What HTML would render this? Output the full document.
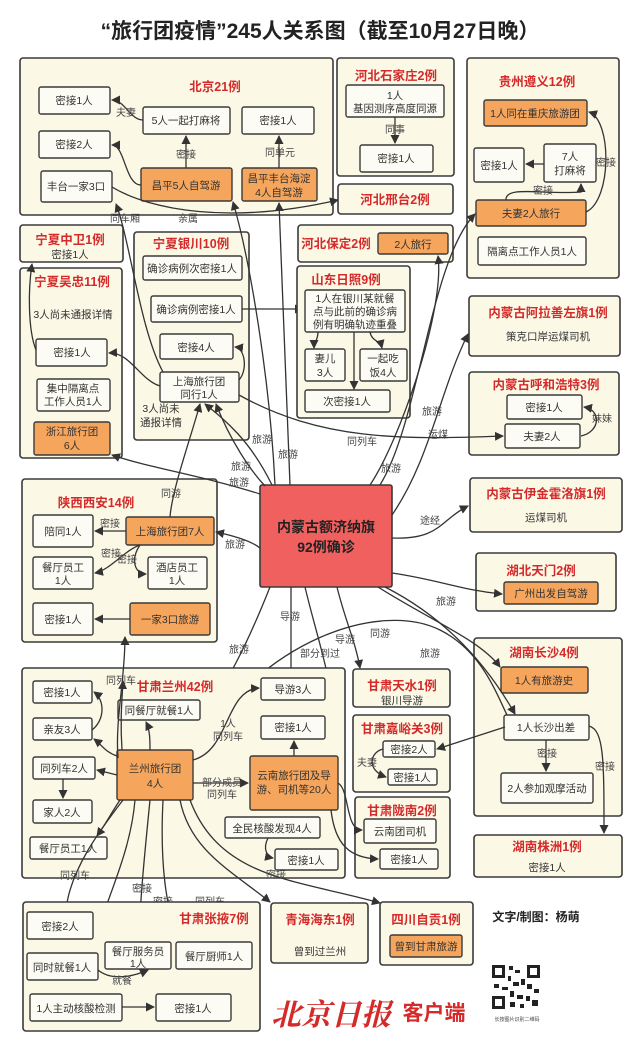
<!DOCTYPE html>
<html><head><meta charset="utf-8">
<style>
html,body{margin:0;padding:0;background:#fff;}
svg{display:block;font-family:"Liberation Sans","Noto Sans CJK SC",sans-serif;}
.p{fill:#fbf8e6;stroke:#3a3a3a;stroke-width:1.6;}
.b{fill:#fdfcf4;stroke:#3a3a3a;stroke-width:1.4;}
.o{fill:#f6a55c;stroke:#3a3a3a;stroke-width:1.4;}
.t{font-size:10.5px;fill:#333;text-anchor:middle;}
.h{font-size:12.5px;fill:#d42a2a;font-weight:bold;text-anchor:middle;}
.l{font-size:10px;fill:#444;text-anchor:middle;}
.c{fill:none;stroke:#333;stroke-width:1.3;marker-end:url(#a);}
.n{fill:none;stroke:#333;stroke-width:1.3;}
</style></head><body>
<svg width="640" height="1050" viewBox="0 0 640 1050">
<defs><marker id="a" markerWidth="9" markerHeight="9" refX="8" refY="4.5" orient="auto" markerUnits="userSpaceOnUse"><path d="M0,0 L9,4.5 L0,9 Z" fill="#333"/></marker></defs>
<text x="320" y="38" text-anchor="middle" font-size="21" font-weight="bold" fill="#222">“旅行团疫情”245人关系图（截至10月27日晚）</text>

<!-- Beijing -->
<rect class="p" x="20" y="58" width="313" height="157" rx="3"/>
<text class="h" x="215" y="91">北京21例</text>
<rect class="b" x="39" y="87" width="71" height="27" rx="2"/><text class="t" x="74" y="104">密接1人</text>
<rect class="b" x="143" y="107" width="87" height="27" rx="2"/><text class="t" x="186" y="124">5人一起打麻将</text>
<rect class="b" x="242" y="107" width="72" height="27" rx="2"/><text class="t" x="278" y="124">密接1人</text>
<rect class="b" x="39" y="131" width="71" height="27" rx="2"/><text class="t" x="74" y="148">密接2人</text>
<rect class="b" x="41" y="171" width="71" height="31" rx="2"/><text class="t" x="76" y="190">丰台一家3口</text>
<rect class="o" x="141" y="168" width="91" height="33" rx="2"/><text class="t" x="186" y="189">昌平5人自驾游</text>
<rect class="o" x="242" y="168" width="75" height="33" rx="2"/><text class="t" x="279" y="182">昌平丰台海淀</text><text class="t" x="279" y="196">4人自驾游</text>
<path class="c" d="M143,120 C130,120 125,100 112,100"/><text class="l" x="126" y="116">夫妻</text>
<path class="c" d="M186,168 L186,136"/><text class="l" x="186" y="158">密接</text>
<path class="c" d="M279,168 L279,136"/><text class="l" x="280" y="156">同单元</text>
<path class="c" d="M141,185 C125,185 125,145 112,145"/>
<path class="c" d="M112,187 C150,210 230,225 338,200"/><text class="l" x="188" y="222">亲属</text>
<text class="l" x="125" y="222">同车厢</text>

<!-- Hebei -->
<rect class="p" x="337" y="58" width="117" height="118" rx="3"/>
<text class="h" x="396" y="80">河北石家庄2例</text>
<rect class="b" x="346" y="85" width="98" height="32" rx="2"/><text class="t" x="395" y="99">1人</text><text class="t" x="395" y="112">基因测序高度同源</text>
<path class="c" d="M395,117 L395,143"/><text class="l" x="395" y="133">同事</text>
<rect class="b" x="360" y="145" width="73" height="27" rx="2"/><text class="t" x="396" y="162">密接1人</text>
<rect class="p" x="338" y="184" width="115" height="30" rx="3"/><text class="h" x="395" y="204">河北邢台2例</text>
<rect class="p" x="298" y="225" width="155" height="37" rx="3"/><text class="h" x="336" y="248">河北保定2例</text>
<rect class="o" x="378" y="233" width="70" height="21" rx="2"/><text class="t" x="413" y="248">2人旅行</text>

<!-- Guizhou -->
<rect class="p" x="467" y="58" width="152" height="220" rx="3"/>
<text class="h" x="537" y="86">贵州遵义12例</text>
<rect class="o" x="484" y="100" width="103" height="26" rx="2"/><text class="t" x="535" y="117">1人同在重庆旅游团</text>
<rect class="b" x="474" y="148" width="50" height="34" rx="2"/><text class="t" x="499" y="169">密接1人</text>
<rect class="b" x="544" y="144" width="52" height="38" rx="2"/><text class="t" x="570" y="160">7人</text><text class="t" x="570" y="174">打麻将</text>
<rect class="o" x="476" y="200" width="110" height="26" rx="2"/><text class="t" x="531" y="217">夫妻2人旅行</text>
<rect class="b" x="478" y="237" width="108" height="28" rx="2"/><text class="t" x="532" y="255">隔离点工作人员1人</text>
<path class="c" d="M544,164 L526,164"/>
<path class="c" d="M506,200 C505,185 545,195 581,192 L581,184"/><text class="l" x="543" y="194">密接</text>
<path class="c" d="M586,212 C612,200 612,120 589,112"/><text class="l" x="606" y="166">密接</text>

<!-- Ningxia -->
<rect class="p" x="20" y="225" width="103" height="37" rx="3"/>
<text class="h" x="70" y="244">宁夏中卫1例</text><text class="t" x="70" y="258">密接1人</text>
<rect class="p" x="20" y="268" width="102" height="190" rx="3"/>
<text class="h" x="72" y="286">宁夏吴忠11例</text>
<text class="t" x="73" y="318">3人尚未通报详情</text>
<rect class="b" x="36" y="339" width="71" height="27" rx="2"/><text class="t" x="72" y="356">密接1人</text>
<rect class="b" x="37" y="379" width="73" height="32" rx="2"/><text class="t" x="73" y="392">集中隔离点</text><text class="t" x="73" y="405">工作人员1人</text>
<rect class="o" x="34" y="422" width="76" height="33" rx="2"/><text class="t" x="72" y="435">浙江旅行团</text><text class="t" x="72" y="449">6人</text>
<path class="c" d="M36,350 C28,330 28,290 32,264"/>

<rect class="p" x="134" y="232" width="115" height="208" rx="3"/>
<text class="h" x="191" y="248">宁夏银川10例</text>
<rect class="b" x="143" y="256" width="99" height="24" rx="2"/><text class="t" x="192" y="272">确诊病例次密接1人</text>
<rect class="b" x="151" y="296" width="91" height="26" rx="2"/><text class="t" x="196" y="313">确诊病例密接1人</text>
<rect class="b" x="160" y="334" width="73" height="25" rx="2"/><text class="t" x="196" y="351">密接4人</text>
<rect class="b" x="160" y="372" width="79" height="30" rx="2"/><text class="t" x="199" y="385">上海旅行团</text><text class="t" x="199" y="398">同行1人</text>
<text class="t" x="161" y="412">3人尚未</text><text class="t" x="161" y="426">通报详情</text>
<path class="c" d="M242,309 L303,309"/>
<path class="c" d="M160,386 C140,380 130,352 109,353"/>
<path class="c" d="M239,380 C248,370 245,348 235,347"/>
<path class="c" d="M163,372 C140,330 130,240 116,204"/>

<!-- Shandong -->
<rect class="p" x="297" y="266" width="113" height="152" rx="3"/>
<text class="h" x="346" y="284">山东日照9例</text>
<rect class="b" x="305" y="290" width="100" height="42" rx="2"/><text class="t" x="355" y="302">1人在银川某就餐</text><text class="t" x="355" y="315">点与此前的确诊病</text><text class="t" x="355" y="328">例有明确轨迹重叠</text>
<rect class="b" x="305" y="349" width="40" height="32" rx="2"/><text class="t" x="325" y="362">妻儿</text><text class="t" x="325" y="376">3人</text>
<rect class="b" x="360" y="349" width="47" height="32" rx="2"/><text class="t" x="383" y="362">一起吃</text><text class="t" x="383" y="376">饭4人</text>
<rect class="b" x="305" y="390" width="85" height="22" rx="2"/><text class="t" x="347" y="405">次密接1人</text>
<path class="c" d="M318,332 C318,340 314,342 314,348"/>
<path class="c" d="M370,332 C372,342 380,340 382,348"/>
<path class="c" d="M354,332 L354,389"/>

<!-- Inner Mongolia right -->
<rect class="p" x="469" y="296" width="151" height="60" rx="3"/>
<text class="h" x="548" y="317">内蒙古阿拉善左旗1例</text><text class="t" x="548" y="340">策克口岸运煤司机</text>
<rect class="p" x="469" y="372" width="150" height="83" rx="3"/>
<text class="h" x="546" y="389">内蒙古呼和浩特3例</text>
<rect class="b" x="507" y="395" width="75" height="24" rx="2"/><text class="t" x="544" y="411">密接1人</text>
<rect class="b" x="505" y="424" width="75" height="24" rx="2"/><text class="t" x="542" y="440">夫妻2人</text>
<path class="c" d="M581,436 C600,432 602,410 584,407"/><text class="l" x="602" y="422">妹妹</text>
<rect class="p" x="470" y="478" width="152" height="54" rx="3"/>
<text class="h" x="546" y="498">内蒙古伊金霍洛旗1例</text><text class="t" x="546" y="521">运煤司机</text>
<rect class="p" x="476" y="553" width="140" height="58" rx="3"/>
<text class="h" x="541" y="575">湖北天门2例</text>
<rect class="o" x="504" y="582" width="94" height="22" rx="2"/><text class="t" x="551" y="597">广州出发自驾游</text>

<!-- Changsha -->
<rect class="p" x="474" y="638" width="148" height="178" rx="3"/>
<text class="h" x="544" y="657">湖南长沙4例</text>
<rect class="o" x="501" y="667" width="87" height="26" rx="2"/><text class="t" x="544" y="684">1人有旅游史</text>
<rect class="b" x="504" y="715" width="85" height="25" rx="2"/><text class="t" x="546" y="731">1人长沙出差</text>
<rect class="b" x="501" y="773" width="92" height="30" rx="2"/><text class="t" x="547" y="792">2人参加观摩活动</text>
<path class="c" d="M546,740 L546,771"/><text class="l" x="547" y="757">密接</text>
<path class="c" d="M589,726 C604,730 604,760 604,833"/><text class="l" x="605" y="770">密接</text>
<rect class="p" x="474" y="835" width="148" height="42" rx="3"/>
<text class="h" x="547" y="851">湖南株洲1例</text><text class="t" x="547" y="871">密接1人</text>

<!-- Xi'an -->
<rect class="p" x="22" y="479" width="195" height="163" rx="3"/>
<text class="h" x="96" y="507">陕西西安14例</text>
<rect class="b" x="33" y="515" width="60" height="32" rx="2"/><text class="t" x="63" y="535">陪同1人</text>
<rect class="o" x="126" y="517" width="88" height="28" rx="2"/><text class="t" x="170" y="535">上海旅行团7人</text>
<rect class="b" x="33" y="557" width="60" height="32" rx="2"/><text class="t" x="63" y="571">餐厅员工</text><text class="t" x="63" y="584">1人</text>
<rect class="b" x="148" y="557" width="59" height="32" rx="2"/><text class="t" x="177" y="571">酒店员工</text><text class="t" x="177" y="584">1人</text>
<rect class="b" x="33" y="603" width="60" height="32" rx="2"/><text class="t" x="63" y="623">密接1人</text>
<rect class="o" x="130" y="603" width="80" height="32" rx="2"/><text class="t" x="170" y="623">一家3口旅游</text>
<path class="c" d="M126,531 L95,531"/><text class="l" x="110" y="527">密接</text>
<path class="c" d="M140,545 C125,550 110,570 95,573"/><text class="l" x="111" y="557">密接</text>
<path class="c" d="M140,545 C130,560 135,574 146,574"/><text class="l" x="127" y="563">密接</text>
<path class="c" d="M130,619 L95,619"/>
<path class="c" d="M170,517 C172,490 190,440 200,404"/><text class="l" x="171" y="497">同游</text>

<!-- Center -->
<rect x="260" y="485" width="132" height="102" fill="#f0605f" stroke="#3a3a3a" stroke-width="1.6" rx="2"/>
<text x="326" y="532" text-anchor="middle" font-size="14" font-weight="bold" fill="#222">内蒙古额济纳旗</text>
<text x="326" y="552" text-anchor="middle" font-size="14" font-weight="bold" fill="#222">92例确诊</text>

<!-- center connectors -->
<path class="c" d="M260,494 C200,475 150,468 112,455"/><text class="l" x="239" y="486">旅游</text>
<path class="c" d="M265,486 C250,470 230,440 216,404"/><text class="l" x="241" y="470">旅游</text>
<path class="c" d="M272,485 C250,440 225,420 205,404"/>
<path class="c" d="M275,485 C270,380 250,260 233,202"/><text class="l" x="262" y="443">旅游</text>
<path class="c" d="M290,485 L279,203"/><text class="l" x="288" y="458">旅游</text>
<path class="c" d="M370,485 C400,440 445,310 438,256"/><text class="l" x="432" y="415">旅游</text>
<path class="c" d="M380,485 C420,420 430,260 475,214"/><text class="l" x="391" y="472">旅游</text>
<path class="c" d="M392,515 C430,460 440,390 468,334"/><text class="l" x="438" y="438">运煤</text>
<path class="c" d="M392,538 C440,540 440,520 468,506"/><text class="l" x="430" y="524">途经</text>
<path class="c" d="M260,548 C250,540 230,535 216,532"/><text class="l" x="235" y="548">旅游</text>
<path class="c" d="M392,573 C440,580 460,590 502,594"/><text class="l" x="446" y="605">旅游</text>
<path class="c" d="M378,587 C430,620 480,640 500,667"/><text class="l" x="430" y="657">旅游</text>
<path class="c" d="M385,587 C450,620 490,670 515,714"/><text class="l" x="440" y="678">旅游</text>
<path class="c" d="M337,587 C345,620 355,640 360,668"/><text class="l" x="345" y="643">导游</text>
<path class="c" d="M291,587 L291,677"/><text class="l" x="290" y="620">导游</text>
<path class="c" d="M305,587 C320,650 340,700 334,754"/><text class="l" x="320" y="657">部分到过</text>
<path class="c" d="M270,587 C245,650 220,700 178,749"/><text class="l" x="239" y="653">旅游</text>
<path class="c" d="M239,395 C320,440 400,440 503,436"/><text class="l" x="362" y="445">同列车</text>
<path class="n" d="M195,752 C260,640 380,600 440,630 C480,650 495,690 507,715"/><text class="l" x="380" y="637">同游</text>

<!-- Gansu Lanzhou -->
<rect class="p" x="22" y="668" width="323" height="210" rx="3"/>
<text class="h" x="175" y="691">甘肃兰州42例</text>
<rect class="b" x="33" y="681" width="59" height="22" rx="2"/><text class="t" x="62" y="696">密接1人</text>
<rect class="b" x="118" y="700" width="82" height="20" rx="2"/><text class="t" x="159" y="714">同餐厅就餐1人</text>
<rect class="b" x="33" y="718" width="59" height="22" rx="2"/><text class="t" x="62" y="733">亲友3人</text>
<rect class="o" x="117" y="750" width="76" height="50" rx="2"/><text class="t" x="155" y="772">兰州旅行团</text><text class="t" x="155" y="787">4人</text>
<rect class="b" x="33" y="757" width="62" height="22" rx="2"/><text class="t" x="64" y="772">同列车2人</text>
<rect class="b" x="33" y="800" width="59" height="23" rx="2"/><text class="t" x="62" y="816">家人2人</text>
<rect class="b" x="30" y="837" width="77" height="22" rx="2"/><text class="t" x="68" y="852">餐厅员工1人</text>
<rect class="b" x="261" y="678" width="64" height="22" rx="2"/><text class="t" x="293" y="693">导游3人</text>
<rect class="b" x="261" y="716" width="64" height="23" rx="2"/><text class="t" x="293" y="731">密接1人</text>
<rect class="o" x="250" y="756" width="88" height="54" rx="2"/><text class="t" x="294" y="779">云南旅行团及导</text><text class="t" x="294" y="793">游、司机等20人</text>
<rect class="b" x="225" y="817" width="95" height="21" rx="2"/><text class="t" x="272" y="832">全民核酸发现4人</text>
<rect class="b" x="275" y="849" width="63" height="21" rx="2"/><text class="t" x="306" y="864">密接1人</text>
<path class="c" d="M92,730 C105,720 105,700 94,692"/>
<path class="c" d="M117,756 C105,752 102,745 94,739"/>
<path class="c" d="M150,750 C150,740 150,730 146,722"/>
<path class="c" d="M117,775 L97,770"/>
<path class="c" d="M63,779 L63,798"/>
<path class="c" d="M120,800 C110,815 105,825 97,836"/>
<path class="c" d="M193,760 C230,750 225,690 259,688"/><text class="l" x="228" y="727">1人</text><text class="l" x="228" y="740">同列车</text>
<path class="c" d="M193,783 L248,783"/><text class="l" x="222" y="786">部分成员</text><text class="l" x="222" y="798">同列车</text>
<path class="c" d="M294,756 L294,741"/>
<path class="c" d="M268,838 C262,850 268,857 273,858"/>
<path class="c" d="M122,750 C120,720 122,700 123,681"/><text class="l" x="121" y="684">同列车</text>
<path class="c" d="M118,758 C115,720 125,680 125,637"/>

<rect class="p" x="353" y="669" width="97" height="38" rx="3"/>
<text class="h" x="402" y="690">甘肃天水1例</text><text class="t" x="402" y="704">银川导游</text>
<rect class="p" x="353" y="715" width="97" height="77" rx="3"/>
<text class="h" x="402" y="733">甘肃嘉峪关3例</text>
<rect class="b" x="383" y="741" width="52" height="16" rx="2"/><text class="t" x="409" y="753">密接2人</text>
<rect class="b" x="388" y="769" width="49" height="16" rx="2"/><text class="t" x="412" y="781">密接1人</text>
<path class="c" d="M383,749 C370,752 366,770 386,777"/><text class="l" x="367" y="766">夫妻</text>
<path class="c" d="M505,727 L437,749"/>
<rect class="p" x="355" y="797" width="95" height="81" rx="3"/>
<text class="h" x="402" y="815">甘肃陇南2例</text>
<rect class="b" x="364" y="819" width="72" height="24" rx="2"/><text class="t" x="400" y="835">云南团司机</text>
<rect class="b" x="380" y="849" width="58" height="20" rx="2"/><text class="t" x="409" y="863">密接1人</text>
<path class="c" d="M338,783 C350,790 345,830 362,830"/>
<path class="c" d="M331,810 C335,845 350,858 378,859"/>

<!-- downward -->
<path class="c" d="M123,800 C100,830 70,870 66,910"/><text class="l" x="75" y="879">同列车</text>
<path class="c" d="M135,800 C130,860 100,910 93,951"/><text class="l" x="107" y="915">密接</text>
<path class="c" d="M150,800 C145,850 140,900 139,940"/><text class="l" x="142" y="892">密接</text>
<path class="c" d="M163,800 C160,860 165,910 180,940"/><text class="l" x="163" y="905">密接</text>
<path class="c" d="M180,800 C190,850 230,870 270,902"/><text class="l" x="210" y="905">同列车</text>
<path class="c" d="M190,800 C220,880 300,880 380,903"/><text class="l" x="276" y="878">密接</text>

<rect class="p" x="23" y="902" width="237" height="129" rx="3"/>
<text class="h" x="214" y="923">甘肃张掖7例</text>
<rect class="b" x="27" y="912" width="66" height="27" rx="2"/><text class="t" x="60" y="930">密接2人</text>
<rect class="b" x="27" y="953" width="71" height="27" rx="2"/><text class="t" x="62" y="971">同时就餐1人</text>
<rect class="b" x="105" y="942" width="66" height="27" rx="2"/><text class="t" x="138" y="955">餐厅服务员</text><text class="t" x="138" y="967">1人</text>
<rect class="b" x="176" y="942" width="76" height="27" rx="2"/><text class="t" x="214" y="960">餐厅厨师1人</text>
<rect class="b" x="30" y="994" width="92" height="27" rx="2"/><text class="t" x="76" y="1012">1人主动核酸检测</text>
<rect class="b" x="156" y="994" width="75" height="27" rx="2"/><text class="t" x="193" y="1012">密接1人</text>
<path class="c" d="M98,970 C110,980 130,978 148,970"/><text class="l" x="122" y="984">就餐</text>
<path class="c" d="M122,1007 L154,1007"/>

<rect class="p" x="271" y="903" width="97" height="60" rx="3"/>
<text class="h" x="320" y="924">青海海东1例</text><text class="t" x="320" y="955">曾到过兰州</text>
<rect class="p" x="380" y="902" width="93" height="63" rx="3"/>
<text class="h" x="426" y="924">四川自贡1例</text>
<rect class="o" x="390" y="935" width="72" height="22" rx="2"/><text class="t" x="426" y="950">曾到甘肃旅游</text>

<text x="536" y="921" text-anchor="middle" font-size="12" font-weight="bold" fill="#222">文字/制图：杨萌</text>
<text x="331" y="1025" text-anchor="middle" font-size="30" font-weight="bold" font-style="italic" fill="#d42a2a" font-family="'Noto Serif CJK SC',serif">北京日报</text>
<text x="434" y="1020" text-anchor="middle" font-size="21" font-weight="bold" fill="#d42a2a">客户端</text>
<g fill="#222">
<rect x="492" y="965" width="48" height="44" fill="#fff"/>
<rect x="492" y="965" width="13" height="13"/><rect x="527" y="965" width="13" height="13"/><rect x="492" y="996" width="13" height="13"/>
<rect x="495" y="968" width="7" height="7" fill="#fff"/><rect x="530" y="968" width="7" height="7" fill="#fff"/><rect x="495" y="999" width="7" height="7" fill="#fff"/>
<rect x="509" y="966" width="4" height="4"/><rect x="515" y="970" width="5" height="3"/><rect x="508" y="976" width="3" height="5"/><rect x="513" y="982" width="6" height="4"/><rect x="521" y="979" width="4" height="6"/><rect x="494" y="984" width="5" height="4"/><rect x="502" y="987" width="6" height="3"/><rect x="527" y="984" width="5" height="5"/><rect x="534" y="989" width="5" height="4"/><rect x="510" y="991" width="4" height="6"/><rect x="517" y="995" width="6" height="4"/><rect x="526" y="996" width="4" height="5"/><rect x="532" y="1000" width="6" height="6"/><rect x="510" y="1002" width="5" height="5"/><rect x="520" y="1004" width="4" height="4"/>
</g>
<text x="517" y="1021" text-anchor="middle" font-size="5" fill="#444">长按图片识别二维码</text>
</svg>
</body></html>
